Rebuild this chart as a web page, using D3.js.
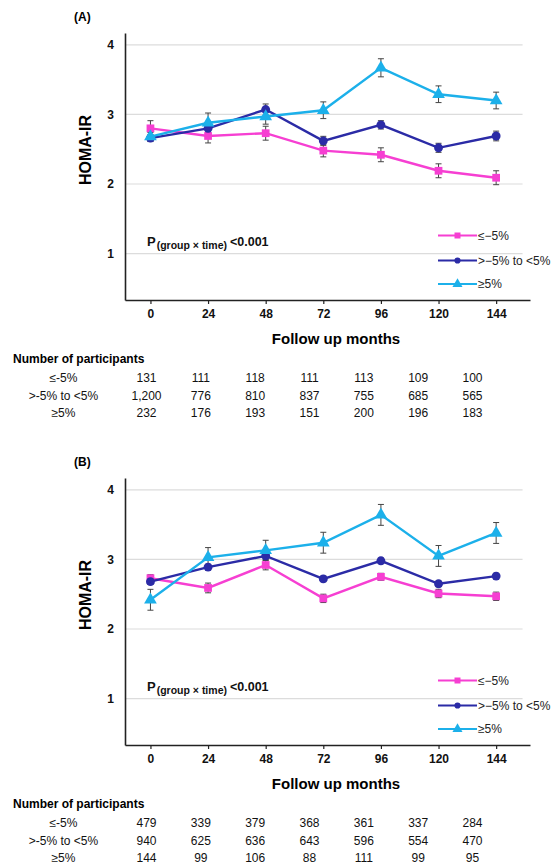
<!DOCTYPE html>
<html lang="en">
<head>
<meta charset="UTF-8">
<style>
  body { margin: 0; background: #fff; }
  svg { display: block; font-family: Arial, "Liberation Sans", sans-serif; }
</style>
<script src="https://d3js.org/d3.v7.min.js"></script>
</head>
<body>
<svg id="chart" width="553" height="865"></svg>
<script>
// ---- data ----
const months = [0, 24, 48, 72, 96, 120, 144];
const legendLabels = ["≤−5%", ">−5% to <5%", "≥5%"];
const tableLabels = ["≤-5%", ">-5% to <5%", "≥5%"];
const yTicks = [1, 2, 3, 4];

// panel A (HOMA-IR means and error half-widths)
const aLoss   = [2.80, 2.69, 2.73, 2.48, 2.42, 2.19, 2.09];
const aStable = [2.66, 2.80, 3.07, 2.62, 2.85, 2.52, 2.69];
const aGain   = [2.68, 2.88, 2.97, 3.06, 3.67, 3.29, 3.20];
const aLossErr   = [0.11, 0.10, 0.10, 0.09, 0.10, 0.10, 0.10];
const aStableErr = [0.05, 0.06, 0.08, 0.065, 0.06, 0.065, 0.07];
const aGainErr   = [0.06, 0.14, 0.11, 0.12, 0.13, 0.12, 0.12];
const aNLoss   = ["131", "111", "118", "111", "113", "109", "100"];
const aNStable = ["1,200", "776", "810", "837", "755", "685", "565"];
const aNGain   = ["232", "176", "193", "151", "200", "196", "183"];

// panel B
const bLoss   = [2.73, 2.59, 2.92, 2.44, 2.75, 2.51, 2.47];
const bStable = [2.68, 2.89, 3.05, 2.72, 2.98, 2.65, 2.76];
const bGain   = [2.42, 3.03, 3.13, 3.24, 3.64, 3.05, 3.38];
const bLossErr   = [0.05, 0.07, 0.07, 0.06, 0.05, 0.06, 0.06];
const bStableErr = [0.04, 0.04, 0.05, 0.04, 0.04, 0.04, 0.04];
const bGainErr   = [0.15, 0.14, 0.145, 0.15, 0.15, 0.15, 0.15];
const bNLoss   = ["479", "339", "379", "368", "361", "337", "284"];
const bNStable = ["940", "625", "636", "643", "596", "554", "470"];
const bNGain   = ["144", "99", "106", "88", "111", "99", "95"];

const colors = ["#f63fd2", "#2b2ba6", "#1cb0ea"];
const shapes = [d3.symbolSquare, d3.symbolCircle, d3.symbolTriangle];
const plotSizes = [60, 62, 70];
const legendSizes = [36, 30, 44];

const svg = d3.select("#chart");

// shared scales (panel-local coords)
const x = d3.scaleLinear().domain([-10.6, 158.1]).range([125, 530]);
const y = d3.scaleLinear().domain([0.333, 4.17]).range([300, 33]);
const col = d3.scalePoint().domain(months).range([146.5, 472.5]);

function drawPanel(offset, title, means, errs, counts) {
  const g = svg.append("g").attr("transform", `translate(0,${offset})`);

  g.append("text").attr("x", 74).attr("y", 21)
    .attr("font-size", "12px").attr("font-weight", "700").text(title);

  // gridlines
  g.selectAll("line.grid").data(yTicks).enter().append("line")
    .attr("class", "grid")
    .attr("x1", x(-10.6)).attr("x2", x(155))
    .attr("y1", d => y(d)).attr("y2", d => y(d))
    .attr("stroke", "#dcdcdc").attr("stroke-width", 1.2);

  // axes
  const yAxis = g.append("g").attr("transform", "translate(125,0)")
    .call(d3.axisLeft(y).tickValues(yTicks).tickFormat(d3.format("d")).tickSize(0).tickPadding(11));
  const xAxis = g.append("g").attr("transform", "translate(0,300)")
    .call(d3.axisBottom(x).tickValues(months).tickSizeInner(4).tickSizeOuter(0).tickPadding(5));
  [yAxis, xAxis].forEach(a => {
    a.select(".domain").attr("stroke", "#222").attr("stroke-width", 1.6);
    a.selectAll(".tick line").attr("stroke", "#222").attr("stroke-width", 1.2);
    a.selectAll("text").attr("font-size", "12px").attr("font-weight", "700")
      .attr("fill", "#111").attr("font-family", "Arial, 'Liberation Sans', sans-serif");
  });

  g.append("text")
    .attr("transform", "translate(91,150) rotate(-90)")
    .attr("text-anchor", "middle").attr("font-size", "16px").attr("font-weight", "700")
    .text("HOMA-IR");

  g.append("text").attr("x", 336).attr("y", 344).attr("text-anchor", "middle")
    .attr("font-size", "15px").attr("font-weight", "700").text("Follow up months");

  // P value
  const p = g.append("text").attr("x", 147).attr("y", 246)
    .attr("font-weight", "700").attr("fill", "#111");
  p.append("tspan").attr("font-size", "13px").text("P");
  p.append("tspan").attr("font-size", "10.5px").attr("dy", 3).attr("dx", 1).text("(group × time)");
  p.append("tspan").attr("font-size", "12.5px").attr("dy", -3).attr("dx", 3).text("<0.001");

  // series
  const line = d3.line().x((d, i) => x(months[i])).y(d => y(d));
  means.forEach((vals, s) => {
    const e = errs[s];
    const eb = g.append("g").attr("stroke", "#444").attr("stroke-width", 1);
    vals.forEach((v, i) => {
      const cx = x(months[i]);
      eb.append("line").attr("x1", cx).attr("x2", cx).attr("y1", y(v - e[i])).attr("y2", y(v + e[i]));
      eb.append("line").attr("x1", cx - 3).attr("x2", cx + 3).attr("y1", y(v - e[i])).attr("y2", y(v - e[i]));
      eb.append("line").attr("x1", cx - 3).attr("x2", cx + 3).attr("y1", y(v + e[i])).attr("y2", y(v + e[i]));
    });
  });
  means.forEach((vals, s) => {
    g.append("path").datum(vals).attr("d", line)
      .attr("fill", "none").attr("stroke", colors[s]).attr("stroke-width", 2.4);
    g.selectAll(null).data(vals).enter().append("path")
      .attr("transform", (d, i) => `translate(${x(months[i])},${y(d)})`)
      .attr("d", d3.symbol().type(shapes[s]).size(plotSizes[s]))
      .attr("fill", colors[s]);
  });

  // legend
  const legY = [235.5, 260.5, 284];
  legendLabels.forEach((lab, s) => {
    const lg = g.append("g").attr("transform", `translate(438,${legY[s]})`);
    lg.append("line").attr("x1", 0).attr("x2", 39).attr("y1", 0).attr("y2", 0)
      .attr("stroke", colors[s]).attr("stroke-width", 2);
    lg.append("path").attr("transform", "translate(19.5,0)")
      .attr("d", d3.symbol().type(shapes[s]).size(legendSizes[s])).attr("fill", colors[s]);
    lg.append("text").attr("x", 40).attr("y", 4.3).attr("font-size", "12px")
      .attr("fill", "#222").text(lab);
  });

  // table of participants
  g.append("text").attr("x", 13).attr("y", 362.5).attr("font-size", "12px")
    .attr("font-weight", "700").text("Number of participants");
  const rowY = [382, 399.6, 417.2];
  counts.forEach((row, r) => {
    g.append("text").attr("x", 63.5).attr("y", rowY[r]).attr("text-anchor", "middle")
      .attr("font-size", "12px").attr("fill", "#111").text(tableLabels[r]);
    g.selectAll(null).data(row).enter().append("text")
      .attr("x", (d, i) => col(months[i])).attr("y", rowY[r])
      .attr("text-anchor", "middle").attr("font-size", "12px").attr("fill", "#111")
      .text(d => d);
  });
}

drawPanel(0, "(A)", [aLoss, aStable, aGain], [aLossErr, aStableErr, aGainErr],
  [aNLoss, aNStable, aNGain]);
drawPanel(445, "(B)", [bLoss, bStable, bGain], [bLossErr, bStableErr, bGainErr],
  [bNLoss, bNStable, bNGain]);
</script>
</body>
</html>
